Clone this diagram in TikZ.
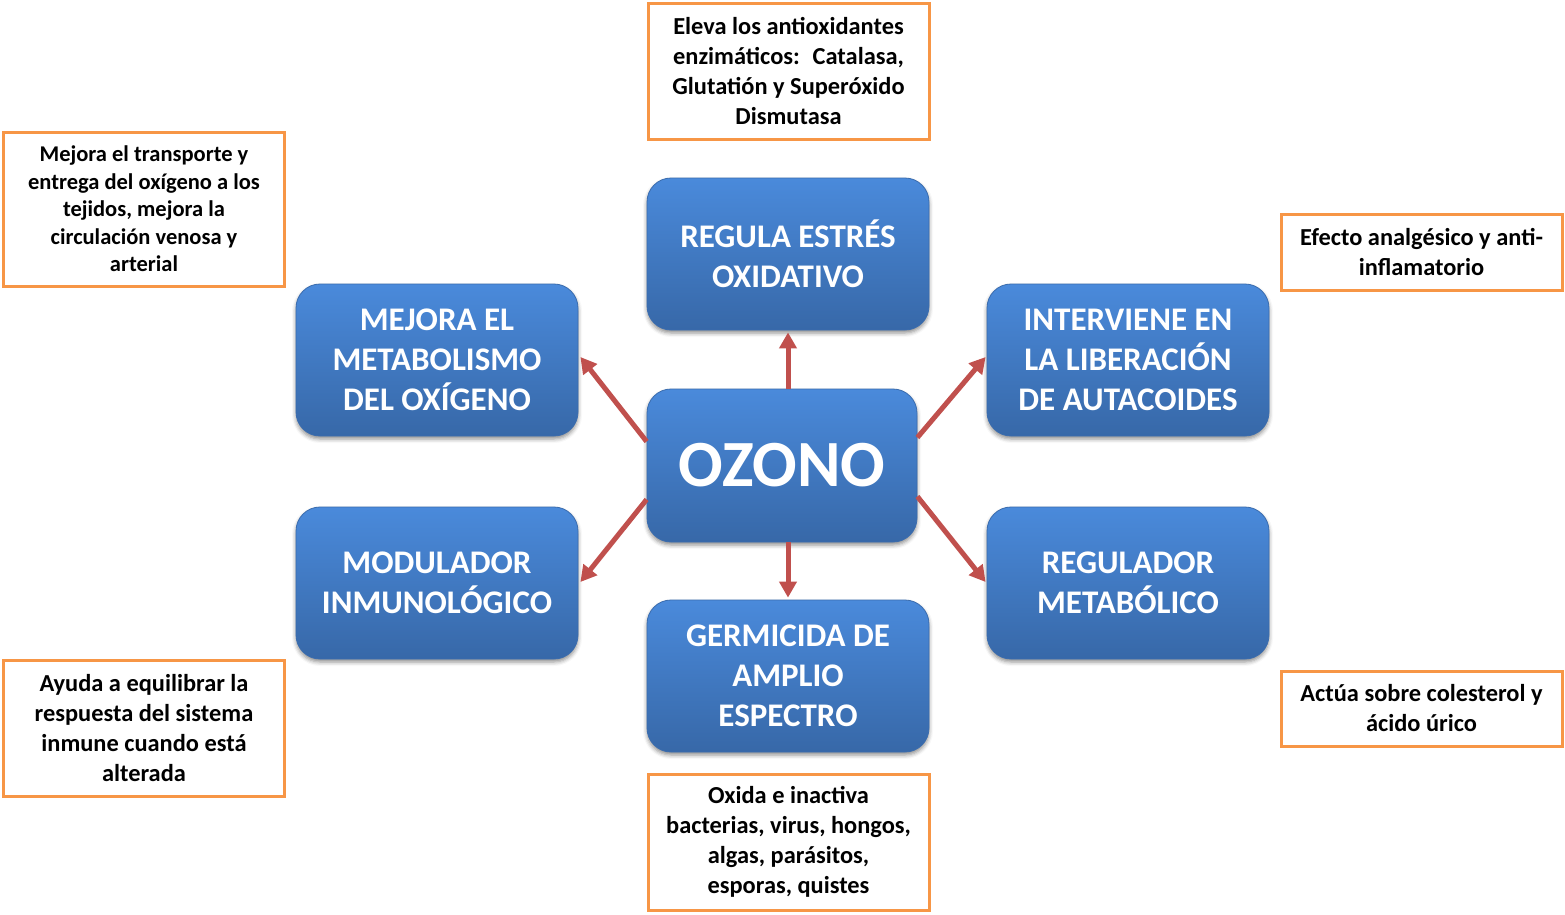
\documentclass[tikz,border=0pt]{standalone}
\usepackage{fontspec}
\setmainfont{Carlito}
\usetikzlibrary{arrows.meta,shadows.blur,calc}
\definecolor{boxtop}{HTML}{4A8ADB}
\definecolor{boxbot}{HTML}{3768A8}
\definecolor{boxline}{HTML}{3A6CAE}
\definecolor{arrowred}{HTML}{C0504D}
\definecolor{annorange}{HTML}{F79646}
\tikzset{
  bluebox/.style={rounded corners=24pt, top color=boxtop, bottom color=boxbot, draw=boxline, line width=0.8pt,
    minimum width=282pt, minimum height=152pt, text=white, align=center, inner sep=0pt,
    font=\fontsize{33}{40}\selectfont\bfseries,
    blur shadow={shadow xshift=0pt, shadow yshift=-3pt, shadow blur radius=4pt, shadow opacity=45}},
  annot/.style={draw=annorange, line width=3pt, fill=white, align=center, inner sep=0pt,
    minimum width=281pt, font=\fontsize{24.4}{30}\selectfont\bfseries},
  annotsmall/.style={annot, font=\fontsize{22.5}{27.5}\selectfont\bfseries},
  redarrow/.style={draw=arrowred, line width=5pt, -{Triangle[length=16pt,width=17pt]}}
}
\begin{document}
\begin{tikzpicture}[x=1pt,y=-1pt]
\useasboundingbox (0,0) rectangle (1565,914);
% annotations
\node[annot, minimum height=136pt] (antop) at (788.5,71) {Eleva los antioxidantes\\enzimáticos:~ Catalasa,\\Glutatión y Superóxido\\Dismutasa};
\node[annotsmall, minimum height=154pt] (anlt) at (144,209) {Mejora el transporte y\\entrega del oxígeno a los\\tejidos, mejora la\\circulación venosa y\\arterial};
\node[annot, minimum height=76pt] (anrt) at (1421.5,252) {Efecto analgésico y anti-\\inflamatorio};
\node[annot, minimum height=136pt] (anlb) at (144,728) {Ayuda a equilibrar la\\respuesta del sistema\\inmune cuando está\\alterada};
\node[annot, minimum height=75pt] (anrb) at (1421.5,708.5) {Actúa sobre colesterol y\\ácido úrico};
\node[annot, minimum height=136pt] (anbot) at (788.5,842) {Oxida e inactiva\\bacterias, virus, hongos,\\algas, parásitos,\\esporas, quistes};
% blue boxes
\node[bluebox] (reg) at (788,254) {REGULA ESTRÉS\\OXIDATIVO};
\node[bluebox] (mej) at (437,360) {MEJORA EL\\METABOLISMO\\DEL OXÍGENO};
\node[bluebox] (int) at (1128,360) {INTERVIENE EN\\LA LIBERACIÓN\\DE AUTACOIDES};
\node[bluebox] (mod) at (437,583) {MODULADOR\\INMUNOLÓGICO};
\node[bluebox] (rgm) at (1128,583) {REGULADOR\\METABÓLICO};
\node[bluebox] (ger) at (788,676) {GERMICIDA DE\\AMPLIO\\ESPECTRO};
\node[bluebox, minimum width=270pt, minimum height=153pt, font=\fontsize{66}{70}\selectfont\bfseries] (oz) at (782,465.5) {\raisebox{-3pt}{OZONO}};
% arrows
\draw[redarrow] ([xshift=6pt]oz.north) -- ([yshift=-2pt]reg.south);
\draw[redarrow] ([xshift=6pt]oz.south) -- ([yshift=2pt]ger.north);
\draw[redarrow] ([yshift=24pt]oz.west) -- ([xshift=2pt,yshift=3pt]mej.east);
\draw[redarrow] ([yshift=-34pt]oz.west) -- ([xshift=2pt,yshift=1pt]mod.east);
\draw[redarrow] ([yshift=28pt]oz.east) -- ([xshift=-1pt,yshift=3pt]int.west);
\draw[redarrow] ([yshift=-31pt]oz.east) -- ([xshift=-1pt,yshift=1pt]rgm.west);
\end{tikzpicture}
\end{document}
